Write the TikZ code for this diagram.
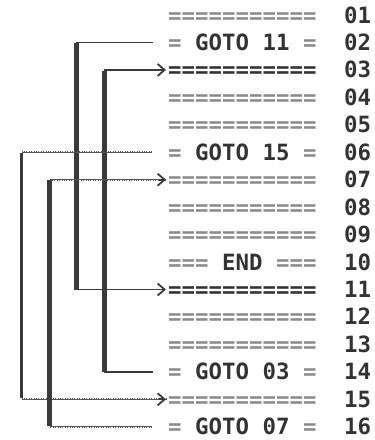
\documentclass[tikz,border=0pt]{standalone}
\usepackage{fontspec}
\setmonofont{DejaVu Sans Mono}
\usetikzlibrary{arrows.meta}
\definecolor{ink}{HTML}{333333}
\definecolor{rule}{HTML}{8C8C8C}
\definecolor{wire}{HTML}{3A3A3A}
\definecolor{wirelight}{HTML}{555555}
\newcommand{\eqs}{\textcolor{rule}{===========}}
\newcommand{\eqd}{\textcolor{ink}{===========}}
\newcommand{\gt}[1]{\textcolor{rule}{=} \textcolor{ink}{#1} \textcolor{rule}{=}}
\begin{document}
\begin{tikzpicture}[x=1pt,y=-1pt,
  codeline/.style={font=\ttfamily\bfseries\fontsize{22.4}{24}\selectfont,
    anchor=west, inner sep=0pt, text height=16pt, text depth=0pt},
  linenum/.style={codeline, text=ink},
  jump/.style={wire, line width=1.8pt, line cap=rect},
  jumpdot/.style={wirelight, line width=1.1pt,
    postaction={draw, wirelight, line width=2.2pt, dash pattern=on 0.9pt off 1.5pt}},
  lane/.style={wire, line width=4.3pt},
  lanethin/.style={wire, line width=2.6pt},
  tip/.style={-{Straight Barb[length=7pt,width=12pt,line width=1.8pt]}},
  src/.style={shorten <=16pt},
  dst/.style={shorten >=2pt}]
\useasboundingbox (0,0) rectangle (375,440);

% program rows (1\i-101 turns the two-digit label into its row index)
\def\rowy#1{15+(1#1-101)*27.45}
\foreach \i/\t in {01/\eqs,02/{\gt{GOTO 11}},03/\eqd,04/\eqs,05/\eqs,
                   06/{\gt{GOTO 15}},07/\eqs,08/\eqs,09/\eqs,
                   10/{\textcolor{rule}{===} \textcolor{ink}{END} \textcolor{rule}{===}},
                   11/\eqd,12/\eqs,13/\eqs,14/{\gt{GOTO 03}},15/\eqs,16/{\gt{GOTO 07}}}{
  \node[codeline] (r\i) at (168,{\rowy{\i}}) {\t};
  \node[linenum] (n\i) at (344,{\rowy{\i}}) {\i};
}

% lanes for the jumps
\coordinate (la) at (76.5,0);
\coordinate (lb) at (104.5,0);
\coordinate (lc) at (21.5,0);
\coordinate (ld) at (49.5,0);

% GOTO 11
\draw[jump,src,dst,tip] (r02.west) -- (r02.west -| la) -- (r11.west -| la) -- (r11.west);
\draw[lane] ([yshift=-0.9pt]r02.west -| la) -- (r11.west -| la);
% GOTO 03
\draw[jump,src,dst,tip] (r14.west) -- (r14.west -| lb) -- (r03.west -| lb) -- (r03.west);
\draw[lane] (r14.west -| lb) -- ([yshift=-0.9pt]r03.west -| lb);
% GOTO 15
\draw[jumpdot,src] (r06.west) -- (r06.west -| lc);
\draw[jumpdot,dst] (r15.west -| lc) -- (r15.west);
\draw[wire,line width=1.8pt,tip,shorten >=2pt] ([xshift=-9pt]r15.west) -- (r15.west);
\draw[lanethin] ([yshift=-0.6pt]r06.west -| lc) -- ([yshift=1pt]r15.west -| lc);
% GOTO 07
\draw[jumpdot,src] (r16.west) -- (r16.west -| ld);
\draw[jumpdot,dst] (r07.west -| ld) -- (r07.west);
\draw[wire,line width=1.8pt,tip,shorten >=2pt] ([xshift=-9pt]r07.west) -- (r07.west);
\draw[lane] ([yshift=1pt]r16.west -| ld) -- ([yshift=-0.6pt]r07.west -| ld);
\end{tikzpicture}
\end{document}
